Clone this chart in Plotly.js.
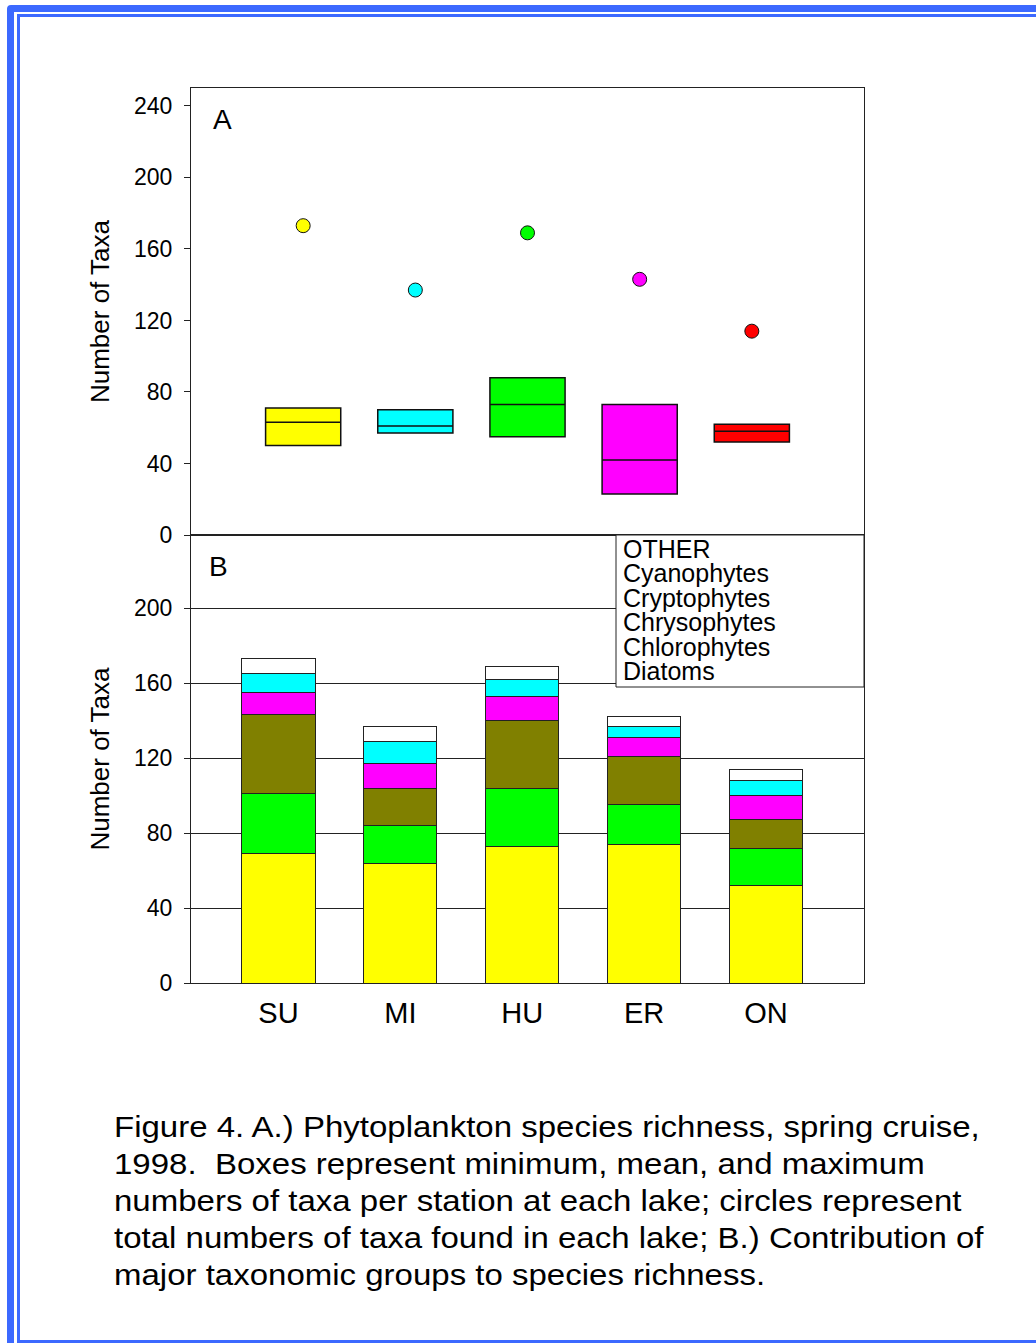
<!DOCTYPE html>
<html>
<head>
<meta charset="utf-8">
<script src="https://cdn.plot.ly/plotly-3.0.1.min.js"></script>
<style>
  html, body { margin: 0; padding: 0; width: 1036px; height: 1343px; overflow: hidden; background: #fff; }
  #outer { position: absolute; left: 7px; top: 5px; width: 1200px; height: 1500px; border: 7px solid rgb(60,105,255); border-radius: 4px; box-sizing: border-box; }
  #inner { position: absolute; left: 17px; top: 14px; width: 1200px; height: 1329px; border: 3px solid rgb(60,105,255); box-sizing: border-box; }
  #chart { position: absolute; left: 0; top: 0; width: 1036px; height: 1343px; }
  #caption { position: absolute; left: 114px; top: 1108px; font-family: "Liberation Sans", Arial, sans-serif; font-size: 30px; line-height: 37.1px; color: #000; transform: scaleX(1.1); transform-origin: left top; white-space: nowrap; }
</style>
</head>
<body>
<div id="outer"></div>
<div id="inner"></div>
<div id="chart"></div>
<div id="caption"></div>
<script>
// ---- data ----
const lakes = ["SU", "MI", "HU", "ER", "ON"];
const lakeColors = ["#FFFF00", "#00FFFF", "#00FF00", "#FF00FF", "#FF0000"];
// Panel A: per-station min, mean, max and lake total
const stationMin  = [50, 57, 55, 23, 52];
const stationMean = [63, 61, 73, 42, 58];
const stationMax  = [71, 70, 88, 73, 62];
const lakeTotal   = [173, 137, 169, 143, 114];
// Panel B: contributions by taxonomic group (bottom to top)
const groupNames  = ["Diatoms", "Chlorophytes", "Chrysophytes", "Cryptophytes", "Cyanophytes", "OTHER"];
const groupColors = ["#FFFF00", "#00FF00", "#808000", "#FF00FF", "#00FFFF", "#FFFFFF"];
const diatoms      = [69, 64, 73, 74, 52];
const chlorophytes = [32, 20, 31, 21, 20];
const chrysophytes = [42, 20, 36, 26, 15];
const cryptophytes = [12, 13, 13, 10, 13];
const cyanophytes  = [10, 12, 9, 6, 8];
const other        = [8, 8, 7, 5, 6];
const groupValues  = [diatoms, chlorophytes, chrysophytes, cryptophytes, cyanophytes, other];
const yTicksA = [0, 40, 80, 120, 160, 200, 240];
const yTicksB = [0, 40, 80, 120, 160, 200];
const captionLines = [
  "Figure 4. A.) Phytoplankton species richness, spring cruise,",
  "1998.&nbsp; Boxes represent minimum, mean, and maximum",
  "numbers of taxa per station at each lake; circles represent",
  "total numbers of taxa found in each lake; B.) Contribution of",
  "major taxonomic groups to species richness."
];

document.getElementById("caption").innerHTML = captionLines.join("<br>");

const FONT = "Liberation Sans, Arial, sans-serif";
const xIdx = lakes.map((_, i) => i);
const traces = [];

// Panel A boxes
lakes.forEach((lk, i) => {
  traces.push({
    type: "box", xaxis: "x2", yaxis: "y2",
    x: [i], q1: [stationMin[i]], median: [stationMean[i]], q3: [stationMax[i]],
    lowerfence: [stationMin[i]], upperfence: [stationMax[i]],
    width: 0.67, whiskerwidth: 0, boxpoints: false,
    fillcolor: lakeColors[i], line: { color: "#111", width: 1.5 },
    showlegend: false, hoverinfo: "skip"
  });
});
// Panel A circles
traces.push({
  type: "scatter", mode: "markers", xaxis: "x2", yaxis: "y2",
  x: xIdx, y: lakeTotal,
  marker: { size: 14, color: lakeColors, line: { color: "#111", width: 1 } },
  showlegend: false, hoverinfo: "skip"
});
// Panel B stacked bars
groupNames.forEach((g, k) => {
  traces.push({
    type: "bar", xaxis: "x", yaxis: "y",
    x: xIdx, y: groupValues[k], name: g, width: 0.6,
    marker: { color: groupColors[k], line: { color: "#222", width: 1 } },
    showlegend: false, hoverinfo: "skip"
  });
});

const splitY = (983 - 535) / (1343 - 88 - 360);
const annotations = [
  { xref: "x2 domain", yref: "y2 domain", x: (222 - 191) / 673, y: 1 - (120 - 88) / 447, text: "A", showarrow: false, font: { family: FONT, size: 28, color: "#000" }, xanchor: "center", yanchor: "middle" },
  { xref: "x domain", yref: "y domain", x: (218 - 191) / 673, y: 1 - (566 - 535) / 448, text: "B", showarrow: false, font: { family: FONT, size: 28, color: "#000" }, xanchor: "center", yanchor: "middle" }
];
// legend text lines (top: OTHER, bottom: Diatoms)
groupNames.slice().reverse().forEach((g, i) => {
  annotations.push({
    xref: "x domain", yref: "y domain",
    x: (621 - 191) / 673, y: 1 - (549 + i * 24.4 - 535) / 448,
    text: g, showarrow: false, xanchor: "left", yanchor: "middle",
    font: { family: FONT, size: 25, color: "#000" }
  });
});

const layout = {
  width: 1036, height: 1343,
  margin: { l: 191, r: 172, t: 88, b: 360 },
  paper_bgcolor: "rgba(0,0,0,0)", plot_bgcolor: "#fff",
  barmode: "stack", boxmode: "overlay",
  font: { family: FONT, color: "#000" },
  xaxis: {
    domain: [0, 1], anchor: "y", range: [-0.718, 4.804],
    tickvals: xIdx, ticktext: lakes, ticks: "", showgrid: false, zeroline: false,
    showline: true, mirror: true, linecolor: "#222", linewidth: 1,
    tickfont: { family: FONT, size: 29, color: "#000" }, ticklabelstandoff: 4
  },
  yaxis: {
    domain: [0, splitY], anchor: "x", range: [0, 239],
    tickvals: yTicksB, ticks: "outside", ticklen: 6, tickcolor: "#222",
    showgrid: true, gridcolor: "#222", gridwidth: 1, zeroline: false,
    showline: true, mirror: true, linecolor: "#222", linewidth: 1,
    tickfont: { family: FONT, size: 23, color: "#000" }, ticklabelstandoff: 7,
    title: { text: "Number of Taxa", font: { family: FONT, size: 26, color: "#000" }, standoff: 16 }
  },
  xaxis2: {
    domain: [0, 1], anchor: "y2", range: [-1, 5],
    showticklabels: false, ticks: "", showgrid: false, zeroline: false,
    showline: true, mirror: true, linecolor: "#222", linewidth: 1
  },
  yaxis2: {
    domain: [splitY, 1], anchor: "x2", range: [0, 250],
    tickvals: yTicksA, ticks: "outside", ticklen: 6, tickcolor: "#222",
    showgrid: false, zeroline: false,
    showline: true, mirror: true, linecolor: "#222", linewidth: 1,
    tickfont: { family: FONT, size: 23, color: "#000" }, ticklabelstandoff: 7,
    title: { text: "Number of Taxa", font: { family: FONT, size: 26, color: "#000" }, standoff: 16 }
  },
  shapes: [
    { type: "rect", xref: "x domain", yref: "y domain", x0: (616 - 191) / 673, x1: 1, y0: (983 - 687) / 448, y1: 1, line: { color: "#222", width: 1 }, fillcolor: "#fff", layer: "above" }
  ],
  annotations: annotations
};

Plotly.newPlot("chart", traces, layout, { staticPlot: true, displayModeBar: false });
</script>
</body>
</html>
